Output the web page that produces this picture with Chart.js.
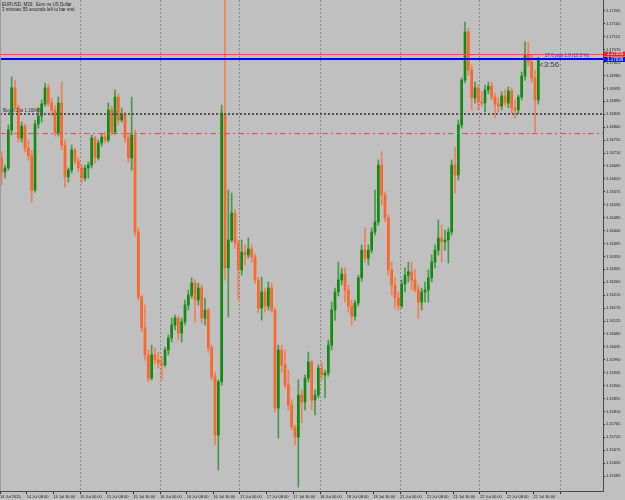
<!DOCTYPE html>
<html>
<head>
<meta charset="utf-8">
<script src="https://cdn.jsdelivr.net/npm/chart.js@4.4.1/dist/chart.umd.min.js"></script>
<style>
  html, body { margin: 0; padding: 0; background: #c0c0c0; }
  #chart { display: block; }
</style>
</head>
<body>
<canvas id="chart" width="625" height="500"></canvas>
<script>
// EURUSD M30 candles (one candle per hour slot)
const firstOpen = 1.16693;
const closes = [
    1.16644, 1.16658, 1.16790, 1.16937, 1.16870, 1.16762, 1.16804, 1.16727, 1.16700, 1.16581,
    1.16811, 1.16839, 1.16881, 1.16937, 1.16884, 1.16860, 1.16780, 1.16884, 1.16738, 1.16627,
    1.16651, 1.16721, 1.16682, 1.16658, 1.16623, 1.16658, 1.16668, 1.16762, 1.16693, 1.16745,
    1.16766, 1.16755, 1.16860, 1.16783, 1.16905, 1.16825, 1.16846, 1.16762, 1.16693, 1.16773,
    1.16435, 1.16209, 1.16101, 1.16007, 1.15926, 1.16007, 1.15989, 1.15979, 1.15972, 1.16024,
    1.16066, 1.16111, 1.16135, 1.16083, 1.16122, 1.16181, 1.16215, 1.16257, 1.16198, 1.16240,
    1.16135, 1.16163, 1.16031, 1.15930, 1.15728, 1.15913, 1.16849, 1.16310, 1.16407, 1.16501,
    1.16397, 1.16303, 1.16365, 1.16355, 1.16376, 1.16348, 1.16268, 1.16170, 1.16226, 1.16177,
    1.16240, 1.16163, 1.15822, 1.16024, 1.15972, 1.15902, 1.15832, 1.15756, 1.15721, 1.15867,
    1.15843, 1.15926, 1.15982, 1.15850, 1.15867, 1.15961, 1.15937, 1.15944, 1.16041, 1.16163,
    1.16226, 1.16268, 1.16289, 1.16233, 1.16177, 1.16142, 1.16188, 1.16275, 1.16372, 1.16344,
    1.16372, 1.16435, 1.16470, 1.16668, 1.16564, 1.16484, 1.16303, 1.16250, 1.16205, 1.16177,
    1.16254, 1.16285, 1.16296, 1.16268, 1.16233, 1.16191, 1.16226, 1.16233, 1.16275, 1.16330,
    1.16372, 1.16414, 1.16400, 1.16407, 1.16435, 1.16668, 1.16633, 1.16808, 1.16964, 1.17132,
    1.16999, 1.16902, 1.16937, 1.16888, 1.16884, 1.16930, 1.16943, 1.16905, 1.16881, 1.16874,
    1.16909, 1.16884, 1.16926, 1.16867, 1.16860, 1.16905, 1.16978, 1.17051, 1.17027, 1.16971,
    1.16895, 1.17036
];
const highs = [
    1.16714, 1.16668, 1.16808, 1.16975, 1.16964, 1.16877, 1.16818, 1.16811, 1.16755, 1.16721,
    1.16825, 1.16867, 1.16895, 1.16954, 1.16950, 1.16902, 1.16874, 1.16905, 1.16957, 1.16755,
    1.16658, 1.16738, 1.16727, 1.16693, 1.16668, 1.16668, 1.16679, 1.16773, 1.16769, 1.16755,
    1.16776, 1.16783, 1.16884, 1.16874, 1.16930, 1.16916, 1.16867, 1.16853, 1.16773, 1.16905,
    1.16790, 1.16449, 1.16215, 1.16181, 1.16024, 1.16041, 1.16031, 1.16017, 1.16003, 1.16034,
    1.16076, 1.16135, 1.16146, 1.16142, 1.16135, 1.16198, 1.16233, 1.16275, 1.16268, 1.16257,
    1.16250, 1.16205, 1.16170, 1.16041, 1.15947, 1.15920, 1.16877, 1.17260, 1.16581, 1.16571,
    1.16512, 1.16407, 1.16407, 1.16390, 1.16414, 1.16390, 1.16358, 1.16278, 1.16278, 1.16240,
    1.16261, 1.16257, 1.16170, 1.16041, 1.16041, 1.16024, 1.15954, 1.15850, 1.15763, 1.15920,
    1.15885, 1.15937, 1.16017, 1.15989, 1.15885, 1.15972, 1.15982, 1.15954, 1.16059, 1.16191,
    1.16240, 1.16330, 1.16310, 1.16310, 1.16250, 1.16198, 1.16198, 1.16285, 1.16390, 1.16449,
    1.16390, 1.16449, 1.16581, 1.16686, 1.16714, 1.16574, 1.16494, 1.16330, 1.16275, 1.16226,
    1.16268, 1.16310, 1.16330, 1.16330, 1.16303, 1.16250, 1.16240, 1.16261, 1.16303, 1.16355,
    1.16390, 1.16477, 1.16459, 1.16442, 1.16449, 1.16686, 1.16731, 1.16825, 1.16971, 1.17166,
    1.17145, 1.17017, 1.16957, 1.16947, 1.16923, 1.16947, 1.16957, 1.16957, 1.16919, 1.16902,
    1.16923, 1.16930, 1.16940, 1.16937, 1.16895, 1.16912, 1.16992, 1.17097, 1.17097, 1.17051,
    1.16999, 1.17044
];
const lows = [
    1.16599, 1.16623, 1.16651, 1.16773, 1.16860, 1.16748, 1.16748, 1.16714, 1.16686, 1.16539,
    1.16574, 1.16797, 1.16818, 1.16874, 1.16874, 1.16839, 1.16769, 1.16769, 1.16721, 1.16592,
    1.16609, 1.16640, 1.16672, 1.16644, 1.16606, 1.16613, 1.16623, 1.16658, 1.16675, 1.16686,
    1.16734, 1.16745, 1.16748, 1.16773, 1.16776, 1.16808, 1.16818, 1.16748, 1.16679, 1.16651,
    1.16421, 1.16198, 1.16087, 1.15989, 1.15913, 1.15920, 1.15975, 1.15961, 1.15920, 1.15965,
    1.16007, 1.16052, 1.16094, 1.16059, 1.16052, 1.16111, 1.16163, 1.16205, 1.16122, 1.16181,
    1.16118, 1.16111, 1.16017, 1.15920, 1.15693, 1.15606, 1.15902, 1.16268, 1.16139, 1.16400,
    1.16379, 1.16198, 1.16285, 1.16320, 1.16344, 1.16330, 1.16257, 1.16156, 1.16128, 1.16156,
    1.16163, 1.16156, 1.15808, 1.15717, 1.15947, 1.15892, 1.15815, 1.15745, 1.15693, 1.15547,
    1.15770, 1.15815, 1.15913, 1.15815, 1.15798, 1.15857, 1.15920, 1.15857, 1.15933, 1.16024,
    1.16128, 1.16212, 1.16250, 1.16191, 1.16156, 1.16111, 1.16128, 1.16177, 1.16264, 1.16330,
    1.16320, 1.16362, 1.16424, 1.16459, 1.16529, 1.16470, 1.16285, 1.16215, 1.16170, 1.16163,
    1.16170, 1.16226, 1.16261, 1.16233, 1.16226, 1.16135, 1.16163, 1.16191, 1.16191, 1.16261,
    1.16310, 1.16355, 1.16330, 1.16372, 1.16327, 1.16424, 1.16571, 1.16616, 1.16797, 1.16954,
    1.16982, 1.16860, 1.16884, 1.16860, 1.16874, 1.16853, 1.16916, 1.16895, 1.16832, 1.16853,
    1.16860, 1.16874, 1.16867, 1.16849, 1.16832, 1.16846, 1.16895, 1.16964, 1.17013, 1.16957,
    1.16783, 1.16881
];

// each bar opens where the previous one closed
const opens = [firstOpen, ...closes.slice(0, -1)];

const timeLabels = [
    "14 Jul 2025", "14 Jul 08:00", "14 Jul 16:00",
    "15 Jul 00:00", "15 Jul 08:00", "15 Jul 16:00",
    "16 Jul 00:00", "16 Jul 08:00", "16 Jul 16:00",
    "17 Jul 00:00", "17 Jul 08:00", "17 Jul 16:00",
    "18 Jul 00:00", "18 Jul 08:00", "18 Jul 16:00",
    "21 Jul 00:00", "21 Jul 08:00", "21 Jul 16:00",
    "22 Jul 00:00", "22 Jul 08:00", "22 Jul 16:00"
];
const priceTicks = [
    1.15585, 1.15630, 1.15675, 1.15720, 1.15765, 1.15810, 1.15855, 1.15900, 1.15945,
    1.15990, 1.16035, 1.16080, 1.16125, 1.16170, 1.16215, 1.16260, 1.16305, 1.16350,
    1.16395, 1.16440, 1.16485, 1.16530, 1.16575, 1.16620, 1.16665, 1.16710, 1.16755,
    1.16800, 1.16845, 1.16890, 1.16935, 1.16980, 1.17025, 1.17070, 1.17115, 1.17160, 1.17205
];

const askPrice = 1.17055;
const bidPrice = 1.17036;
const entryPrice = 1.16846;
const stopPrice = 1.16780;

const BULL = "#008c00";
const BEAR = "#ff5a14";
const candleColors = closes.map((c, i) => (c >= opens[i] ? BULL : BEAR));
const wickColors = closes.map((c, i) => (c >= opens[i] ? "rgba(30,140,30,0.75)" : "rgba(250,110,60,0.8)"));

const wickData = closes.map((c, i) => ({
    x: i + 0.5,
    y: [Math.min(lows[i], opens[i], c), Math.max(highs[i], opens[i], c)],
}));
const bodyData = closes.map((c, i) => ({ x: i + 0.5, y: [opens[i], c] }));

const overlay = {
    id: "overlay",
    afterDatasetsDraw(chart) {
        const { ctx, chartArea: a, scales: { y } } = chart;
        const line = (price, color, width, dash) => {
            const py = Math.round(y.getPixelForValue(price)) + (width % 2 ? 0.5 : 0);
            ctx.save();
            ctx.strokeStyle = color;
            ctx.lineWidth = width;
            ctx.setLineDash(dash);
            ctx.beginPath();
            ctx.moveTo(a.left, py);
            ctx.lineTo(a.right, py);
            ctx.stroke();
            ctx.restore();
            return py;
        };
        line(stopPrice, "#e05050", 1, [6, 3, 2, 3]);
        const entryY = line(entryPrice, "#555555", 2, [2, 2]);
        const askY = line(askPrice, "#ff4a4a", 1, []);
        const bidY = line(bidPrice, "#0000ff", 2, []);

        ctx.save();
        // price boxes on the right axis
        ctx.font = "4.5px 'Liberation Sans'";
        ctx.textBaseline = "middle";
        ctx.fillStyle = "#ff2020";
        ctx.fillRect(a.right + 1, askY - 3, 22, 5);
        ctx.fillStyle = "#1010ff";
        ctx.fillRect(a.right + 1, bidY - 2, 22, 5);
        ctx.fillStyle = "#ffffff";
        ctx.fillText(askPrice.toFixed(5), a.right + 4, askY - 0.5);
        ctx.fillText(bidPrice.toFixed(5), a.right + 4, bidY + 0.5);

        ctx.fillStyle = "#202020";
        ctx.textBaseline = "alphabetic";
        ctx.fillText("EURUSD, M30:  Euro vs US Dollar", 2, 6);
        ctx.fillText("3 minutes 55 seconds left to bar end", 2, 11);

        ctx.fillStyle = "#303030";
        ctx.fillText("Buy 0.1 at 1.16846", 3, entryY - 2);

        ctx.fillStyle = "#3030e0";
        ctx.fillText("27.6 pips 1.9 (10.5 %)", 545, bidY - 2);
        ctx.fillStyle = "#404040";
        ctx.font = "8px 'Liberation Sans'";
        ctx.fillText("<3:56", 539, bidY + 8);

        ctx.strokeStyle = "#9a9a9a";
        ctx.lineWidth = 1;
        ctx.beginPath();
        ctx.moveTo(a.left + 0.5, a.top);
        ctx.lineTo(a.left + 0.5, a.bottom);
        ctx.stroke();
        ctx.restore();
    },
};

function renderChart() {
    const ctx = document.getElementById("chart").getContext("2d");
    new Chart(ctx, {
        type: "bar",
        data: {
            datasets: [
                {
                    data: wickData,
                    backgroundColor: wickColors,
                    barThickness: 1,
                    grouped: false,
                    minBarLength: 1,
                },
                {
                    data: bodyData,
                    backgroundColor: candleColors,
                    barThickness: 2,
                    grouped: false,
                    minBarLength: 1,
                },
            ],
        },
        options: {
            responsive: false,
            devicePixelRatio: 1,
            animation: false,
            layout: { padding: 0 },
            plugins: {
                legend: { display: false },
                tooltip: { enabled: false },
            },
            scales: {
                x: {
                    type: "linear",
                    min: 0,
                    max: 180.9,
                    offset: false,
                    afterBuildTicks: (s) => {
                        const t = [];
                        for (let h = 0; h <= 168; h += 8) t.push({ value: h });
                        s.ticks = t;
                    },
                    afterFit: (s) => {
                        s.height = 9;
                        s.paddingLeft = 0;
                        s.paddingRight = 0;
                    },
                    ticks: {
                        autoSkip: false,
                        maxRotation: 0,
                        minRotation: 0,
                        align: "start",
                        padding: 0,
                        color: "#202020",
                        font: { family: "Liberation Sans", size: 4 },
                        callback: (v, i) => timeLabels[i] || "",
                    },
                    grid: {
                        offset: false,
                        color: (c) => (c.tick && c.tick.value > 0 && c.tick.value % 24 === 0 ? "#8a8a8a" : "rgba(0,0,0,0)"),
                        tickColor: "#303030",
                        tickLength: 3,
                        tickBorderDash: [],
                    },
                    border: { display: true, color: "#4a4a4a", width: 1, dash: [2, 2] },
                },
                y: {
                    position: "right",
                    min: 1.15533,
                    max: 1.17243,
                    afterBuildTicks: (s) => {
                        s.ticks = priceTicks.map((v) => ({ value: v }));
                    },
                    afterFit: (s) => {
                        s.width = 22;
                        s.paddingTop = 0;
                        s.paddingBottom = 0;
                    },
                    ticks: {
                        autoSkip: false,
                        padding: 1,
                        color: "#202020",
                        font: { family: "Liberation Sans", size: 4 },
                        callback: (v) => Number(v).toFixed(5),
                    },
                    grid: {
                        drawOnChartArea: false,
                        tickColor: "#303030",
                        tickLength: 2,
                    },
                    border: { display: true, color: "#4a4a4a", width: 1 },
                },
            },
        },
        plugins: [overlay],
    });
}

document.addEventListener("DOMContentLoaded", renderChart);
</script>
</body>
</html>
